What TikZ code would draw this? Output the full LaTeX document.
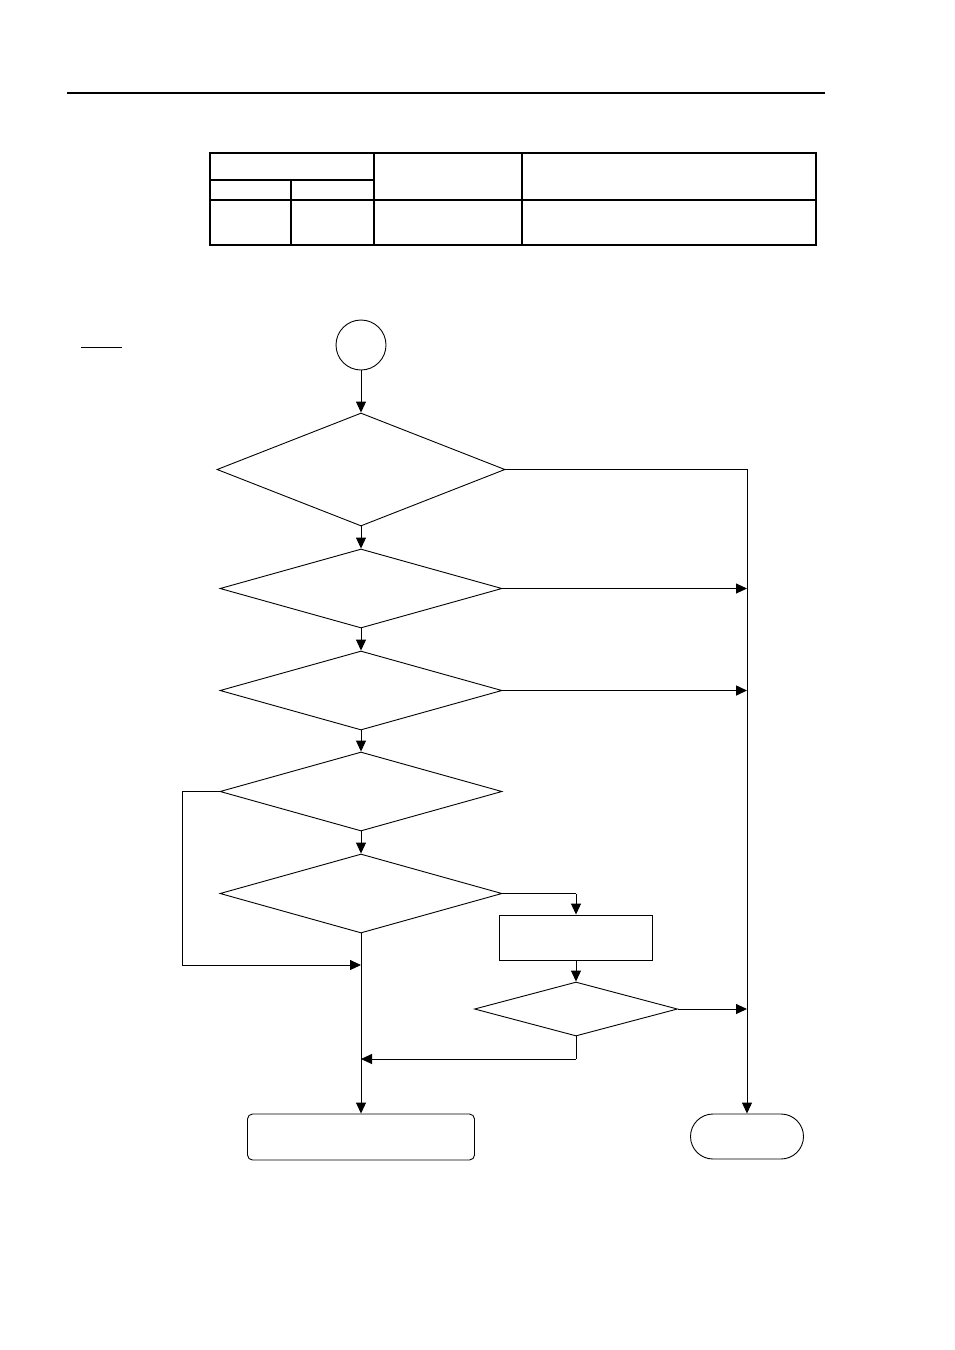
\documentclass[tikz,border=0pt]{standalone}
\usetikzlibrary{shapes.geometric,shapes.misc,arrows.meta}
\begin{document}
\begin{tikzpicture}[x=1pt,y=-1pt,
  line width=0.9pt,
  dia/.style={draw,shape=diamond,inner sep=0pt},
  arr/.style={-{Triangle[length=11pt,width=10pt]}},
  thk/.style={line width=1.6pt}]
\useasboundingbox (0,0) rectangle (954,1350);
% top rule
\coordinate (r1) at (67,93); \coordinate (r2) at (825,93);
\draw[line width=1.5pt] (r1) -- (r2);
% table
\begin{scope}[line width=1.3pt]
\draw (210,153) rectangle (816,245);
\draw (374,153) -- (374,245);
\draw (522,153) -- (522,245);
\draw (210,180) -- (374,180);
\draw (291,180) -- (291,245);
\draw[line width=2pt] (210,200) -- (816,200);
\end{scope}
% small underline
\coordinate (u1) at (81,347); \coordinate (u2) at (122,347);
\draw (u1) -- (u2);
% nodes
\node[draw,circle,minimum size=50pt,inner sep=0pt] (start) at (361,345) {};
\node[dia,minimum width=288pt,minimum height=113pt] (d1) at (361,469.5) {};
\node[dia,minimum width=282pt,minimum height=79pt] (d2) at (361,588.5) {};
\node[dia,minimum width=282pt,minimum height=79pt] (d3) at (361,690.5) {};
\node[dia,minimum width=282pt,minimum height=79pt] (d4) at (361,791.5) {};
\node[dia,minimum width=282pt,minimum height=79pt] (d5) at (361,893.5) {};
\node[draw,rectangle,minimum width=153pt,minimum height=45pt,inner sep=0pt] (proc) at (576,937.5) {};
\node[dia,minimum width=203pt,minimum height=54pt] (d6) at (576,1009) {};
\node[draw,rectangle,rounded corners=5pt,minimum width=227pt,minimum height=46pt,inner sep=0pt] (endA) at (361,1137) {};
\node[draw,rounded rectangle,minimum width=113pt,minimum height=45pt,inner sep=0pt] (endB) at (747,1136.5) {};
% helper coordinates
\coordinate (c1) at (747,469.5);
\coordinate (c4a) at (182,791.5);
\coordinate (c4b) at (182,965);
\coordinate (m1) at (361,965);
\coordinate (m2) at (361,1059);
\coordinate (c5) at (576,893.5);
\coordinate (c6) at (576,1059);
\coordinate (rl2) at (747,588.5);
\coordinate (rl3) at (747,690.5);
\coordinate (rl6) at (747,1009);
% connectors
\draw[arr] (start) -- (d1);
\draw[arr] (d1) -- (d2);
\draw[arr] (d2) -- (d3);
\draw[arr] (d3) -- (d4);
\draw[arr] (d4) -- (d5);
\draw[arr] (d1.east) -- (c1) -- (endB.north);
\draw[arr] (d2.east) -- (rl2);
\draw[arr,thk] (d3.east) -- (rl3);
\draw (d4.west) -- (c4a) -- (c4b);
\draw[arr] (c4b) -- (m1);
\draw[arr] (d5.south) -- (endA.north);
\draw[thk] (d5.east) -- (c5);
\draw[arr] (c5) -- (proc.north);
\draw[arr] (proc) -- (d6);
\draw[arr] (d6.east) -- (rl6);
\draw (d6.south) -- (c6);
\draw[arr] (c6) -- (m2);
\end{tikzpicture}
\end{document}
